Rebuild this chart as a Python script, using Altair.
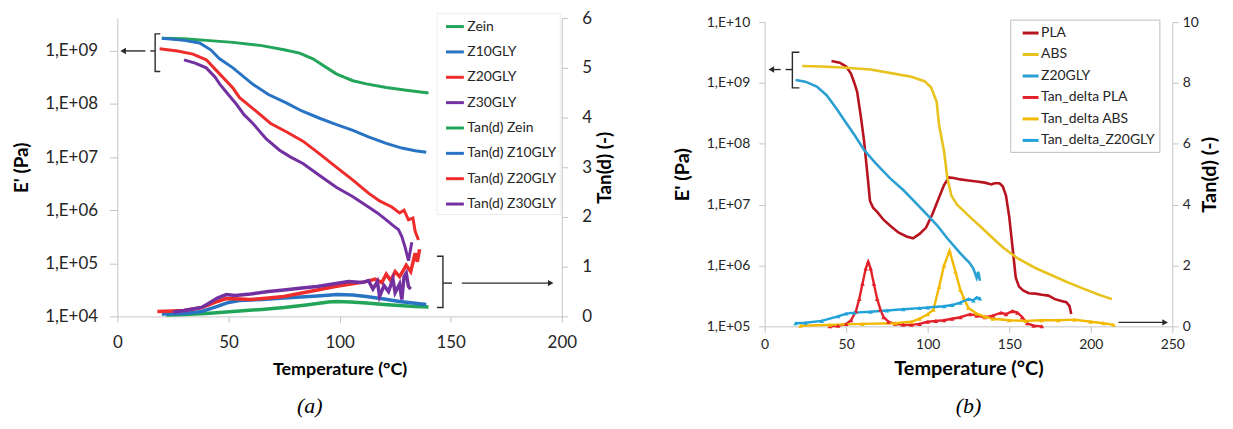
import altair as alt
import pandas as pd

FONT = "Lato"
AXIS_GREY = "#c4c4c4"
LABEL = "#262626"
INK = "#2b2b2b"

# ---------------- panel (a) : Zein series ----------------
A_SERIES = ["Zein", "Z10GLY", "Z20GLY", "Z30GLY",
            "Tan(d) Zein", "Tan(d) Z10GLY", "Tan(d) Z20GLY", "Tan(d) Z30GLY"]
A_COLORS = ["#22a558", "#2873c3", "#ef2c2c", "#7330a0",
            "#22a558", "#2873c3", "#ef2c2c", "#7330a0"]

a_zein_T = [20, 30, 40, 52, 65, 75, 82, 88, 93, 98.5, 102, 106, 112, 121, 130, 140]
a_zein_E = [1.74e9, 1.70e9, 1.58e9, 1.45e9, 1.26e9, 1.05e9, 9.1e8, 7.1e8, 5.2e8,
            3.7e8, 3.2e8, 2.75e8, 2.4e8, 2.05e8, 1.82e8, 1.62e8]

a_z10_T = [20, 30, 37, 42, 46, 52, 61, 68, 76, 83, 91, 98, 106, 113, 121, 128, 134, 139]
a_z10_E = [1.74e9, 1.58e9, 1.41e9, 1.05e9, 7.1e8, 4.8e8, 2.35e8, 1.51e8, 1.05e8,
           7.4e7, 5.4e7, 4.2e7, 3.2e7, 2.4e7, 1.82e7, 1.48e7, 1.32e7, 1.23e7]

a_z20_T = [19, 27, 34, 40, 46, 52, 55, 62, 69, 76, 83.5, 91, 98.5, 106, 113, 118,
           123.5, 127, 129, 131, 133, 134, 135.5]
a_z20_E = [1.1e9, 1.0e9, 8.7e8, 6.8e8, 3.7e8, 2.0e8, 1.32e8, 7.6e7, 4.3e7, 3.0e7,
           2.0e7, 1.15e7, 6.5e6, 3.7e6, 2.1e6, 1.5e6, 1.15e6, 8.9e5, 1.0e6, 6.6e5,
           7.1e5, 4.0e5, 2.75e5]

a_z30_T = [30, 35, 40, 44, 46, 50, 53.5, 57, 61, 67, 73, 78, 83.5, 91, 98.5, 106,
           113, 117, 121, 124, 126.5, 128, 129.5, 131, 132.5]
a_z30_E = [6.8e8, 5.9e8, 4.8e8, 3.2e8, 2.4e8, 1.5e8, 1.0e8, 6.3e7, 4.3e7, 2.2e7,
           1.35e7, 1.0e7, 7.6e6, 4.5e6, 2.7e6, 1.8e6, 1.15e6, 8.9e5, 6.6e5, 5.2e5,
           4.3e5, 3.2e5, 2.0e5, 1.12e5, 2.5e5]

a_tzein_T = [22, 30, 40, 52, 65, 75, 85, 90, 95, 99, 105, 112, 120, 127, 134, 140]
a_tzein_v = [0.03, 0.04, 0.06, 0.1, 0.14, 0.18, 0.23, 0.26, 0.29, 0.3, 0.29, 0.27,
             0.24, 0.22, 0.2, 0.19]

a_tz10_T = [20, 30, 38, 45, 50, 55, 65, 75, 90, 99, 106, 112, 120, 127, 133, 139]
a_tz10_v = [0.05, 0.06, 0.1, 0.2, 0.28, 0.32, 0.34, 0.37, 0.41, 0.44, 0.43, 0.4,
            0.35, 0.3, 0.27, 0.24]

a_tz20_T = [18, 25, 30, 38, 45, 49, 55, 60, 68, 75, 83, 90, 98, 105, 112, 116, 119,
            121, 123, 125, 127, 129, 130, 132, 134, 135, 136]
a_tz20_v = [0.1, 0.11, 0.12, 0.18, 0.3, 0.36, 0.35, 0.34, 0.37, 0.4, 0.47, 0.53,
            0.6, 0.65, 0.7, 0.75, 0.68, 0.85, 0.72, 0.9, 0.8, 0.95, 1.03, 0.9, 1.27,
            1.1, 1.35]

a_tz30_T = [25, 30, 38, 45, 49, 53, 60, 68, 75, 83, 90, 97, 104, 110, 113, 115, 117,
            118, 120, 122, 124, 125, 127, 128, 129, 130, 131, 132]
a_tz30_v = [0.09, 0.12, 0.18, 0.37, 0.44, 0.42, 0.45, 0.5, 0.53, 0.57, 0.6, 0.65,
            0.7, 0.68, 0.72, 0.55, 0.7, 0.4, 0.62, 0.5, 0.75, 0.48, 0.65, 0.34, 0.8,
            0.87, 0.6, 0.55]

# annotation marks of panel (a): bracket + arrow (left, E' units; right, tan units)
a_left_bracket_T = [19.3, 17, 17, 19.3]
a_left_bracket_E = [2.1e9, 2.1e9, 4.1e8, 4.1e8]
a_left_tick_T = [17, 14.8]
a_left_tick_E = [1e9, 1e9]
a_left_arrow_T = [12.6, 3.0]
a_left_arrow_E = [1e9, 1e9]
a_left_head = (2.6, 1e9, "triangle-left")
a_right_bracket_T = [143.8, 146.5, 146.5, 143.8]
a_right_bracket_v = [1.21, 1.21, 0.18, 0.18]
a_right_tick_T = [146.5, 150.6]
a_right_tick_v = [0.67, 0.67]
a_right_arrow_T = [155, 194]
a_right_arrow_v = [0.67, 0.67]
a_right_head = (195, 0.67, "triangle-right")

# ---------------- panel (b) : PLA / ABS / Z20GLY ----------------
B_SERIES = ["PLA", "ABS", "Z20GLY", "Tan_delta PLA", "Tan_delta ABS", "Tan_delta_Z20GLY"]
B_COLORS = ["#b8141f", "#e8c21e", "#2aa0d2", "#e3202a", "#f3b900", "#21a3da"]

b_pla_T = [41, 46, 50, 53, 55, 56.7, 59, 61, 63, 64.6, 66.5, 69, 73, 77, 82, 87, 91,
           95, 99, 103, 107, 110, 113, 116, 120, 125, 130, 135, 139, 141, 144, 146,
           148, 150, 152, 154, 156, 158.5, 162, 166, 170, 174, 178, 182, 185, 187, 188]
b_pla_E = [2.3e9, 2.15e9, 1.86e9, 1.41e9, 1.0e9, 7.2e8, 2.8e8, 1.1e8, 3.2e7, 1.15e7,
           8.9e6, 7.6e6, 5.6e6, 4.5e6, 3.5e6, 3.0e6, 2.8e6, 3.3e6, 4.2e6, 7.1e6,
           1.32e7, 2.1e7, 2.8e7, 2.75e7, 2.6e7, 2.5e7, 2.4e7, 2.3e7, 2.15e7, 2.25e7,
           2.25e7, 2.0e7, 1.41e7, 6.3e6, 2.0e6, 6.3e5, 4.5e5, 3.9e5, 3.5e5, 3.45e5,
           3.3e5, 3.2e5, 2.8e5, 2.6e5, 2.5e5, 2.15e5, 1.6e5]

b_abs_T = [23, 35, 50, 65, 80, 90, 98, 102, 105.5, 107, 110, 112, 114.5, 118, 125,
           133, 140, 146, 155, 166, 175, 185, 195, 205, 213]
b_abs_E = [1.9e9, 1.86e9, 1.78e9, 1.66e9, 1.41e9, 1.26e9, 1.07e9, 8.5e8, 4.9e8,
           2.0e8, 7.6e7, 2.8e7, 1.41e7, 1.0e7, 6.6e6, 4.2e6, 2.8e6, 2.0e6, 1.32e6,
           9.1e5, 7.1e5, 5.4e5, 4.2e5, 3.3e5, 2.8e5]

b_z20_T = [19, 25, 32, 38, 44, 50, 55, 61, 68, 77, 85, 91.5, 99, 106, 112, 120,
           125.5, 128, 130, 131, 132]
b_z20_E = [1.12e9, 1.05e9, 8.7e8, 6.3e8, 3.8e8, 2.2e8, 1.41e8, 7.9e7, 4.8e7, 2.7e7,
           1.74e7, 1.15e7, 7.1e6, 4.5e6, 2.8e6, 1.58e6, 1.12e6, 8.9e5, 6.3e5, 7.9e5,
           5.6e5]

b_tpla_T = [40, 45, 50, 53, 56, 58, 60, 62, 63.5, 65, 67, 69, 71, 73, 76, 80, 85, 90,
            95, 100, 105, 110, 115, 120, 126, 130, 135, 140, 145, 148, 152, 155, 158,
            161, 165, 170]
b_tpla_v = [0.0, 0.02, 0.08, 0.2, 0.5, 0.9, 1.4, 1.9, 2.12, 1.9, 1.4, 0.9, 0.55, 0.3,
            0.15, 0.08, 0.05, 0.05, 0.08, 0.15, 0.18, 0.2, 0.25, 0.3, 0.4, 0.35, 0.3,
            0.35, 0.45, 0.4, 0.5, 0.45, 0.3, 0.1, 0.02, 0.0]

b_tabs_T = [22, 40, 60, 80, 90, 95, 100, 103.5, 107, 110, 113.4, 117, 120, 122, 125,
            130, 135, 140, 150, 160, 170, 180, 190, 200, 208, 214]
b_tabs_v = [0.02, 0.05, 0.08, 0.1, 0.15, 0.25, 0.4, 0.55, 1.3, 2.0, 2.48, 1.8, 1.2,
            0.95, 0.6, 0.42, 0.32, 0.25, 0.2, 0.18, 0.2, 0.2, 0.22, 0.15, 0.1, 0.05]

b_tz20_T = [19, 25, 35, 45, 50, 55, 65, 75, 85, 95, 100, 110, 115, 120, 125, 128, 130, 132]
b_tz20_v = [0.1, 0.12, 0.18, 0.33, 0.42, 0.45, 0.48, 0.52, 0.56, 0.6, 0.62, 0.66,
            0.7, 0.78, 0.9, 0.85, 0.95, 0.92]

b_left_bracket_T = [21.3, 17, 17, 21.3]
b_left_bracket_E = [3.2e9, 3.2e9, 8.3e8, 8.3e8]
b_left_tick_T = [17, 12.8]
b_left_tick_E = [1.66e9, 1.66e9]
b_left_arrow_T = [9.8, 4.6]
b_left_arrow_E = [1.66e9, 1.66e9]
b_left_head = (4.1, 1.66e9, "triangle-left")
b_right_arrow_T = [217, 245]
b_right_arrow_v = [0.13, 0.13]
b_right_head = (245.6, 0.13, "triangle-right")


def long_df(items):
    rows = []
    for name, ts, vs in items:
        for i, (t, v) in enumerate(zip(ts, vs)):
            rows.append({"T": t, "v": v, "series": name, "i": i})
    return pd.DataFrame(rows)


def ann_layers(segments, heads, x_enc, y_enc):
    rows = []
    for sid, (ts, vs) in enumerate(segments):
        for k, (t, v) in enumerate(zip(ts, vs)):
            rows.append({"T": t, "v": v, "seg": sid, "k": k})
    lines = alt.Chart(pd.DataFrame(rows)).mark_line(
        color=INK, strokeWidth=1.4, clip=False
    ).encode(x=x_enc, y=y_enc, detail="seg:N", order="k:Q")
    hd = pd.DataFrame([{"T": t, "v": v, "shape": s} for t, v, s in heads])
    pts = alt.Chart(hd).mark_point(
        filled=True, color=INK, size=42, opacity=1, clip=False
    ).encode(x=x_enc, y=y_enc, shape=alt.Shape("shape:N", scale=None))
    return [lines, pts]


log_label = "'1,E+' + (datum.value >= 1e10 ? '' : '0') + format(log(datum.value) / LN10, '.0f')"


def axis(**kw):
    base = dict(grid=False, domainColor=AXIS_GREY, tickColor=AXIS_GREY,
                labelFont=FONT, labelColor=LABEL, titleFont=FONT,
                titleFontWeight="bold", titleColor="black", labelFlush=False)
    base.update(kw)
    return alt.Axis(**base)


# ---------------- build panel (a) ----------------
a_color = alt.Color(
    "series:N",
    scale=alt.Scale(domain=A_SERIES, range=A_COLORS),
    legend=alt.Legend(title=None, orient="none", legendX=321, legendY=-5,
                      direction="vertical", symbolType="stroke", symbolSize=324,
                      symbolStrokeWidth=3, labelFont=FONT, labelFontSize=14,
                      labelColor=LABEL, rowPadding=7.5, padding=3, symbolOffset=5,
                      labelOffset=2, strokeColor="#ececec", fillColor="white",
                      labelLimit=220),
)
a_x = alt.X("T:Q", scale=alt.Scale(domain=[0, 200], nice=False),
            axis=axis(values=[0, 50, 100, 150, 200], title="Temperature (°C)",
                      labelFontSize=17, titleFontSize=18, tickSize=6,
                      labelPadding=12, titlePadding=10))
a_yE = alt.Y("v:Q", scale=alt.Scale(type="log", domain=[1e4, 4.15e9], nice=False),
             axis=axis(orient="left", values=[1e4, 1e5, 1e6, 1e7, 1e8, 1e9],
                       labelExpr=log_label, title="E' (Pa)", labelFontSize=17,
                       titleFontSize=19, tickSize=8, labelPadding=12,
                       titlePadding=13))
a_yT = alt.Y("v:Q", scale=alt.Scale(domain=[0, 6], nice=False),
             axis=axis(orient="right", values=[0, 1, 2, 3, 4, 5, 6],
                       title="Tan(d) (-)", titleAngle=270, titleBaseline="top",
                       labelFontSize=17, titleFontSize=19, tickSize=6,
                       labelPadding=14, titlePadding=4))

a_E_df = long_df([("Zein", a_zein_T, a_zein_E), ("Z10GLY", a_z10_T, a_z10_E),
                  ("Z20GLY", a_z20_T, a_z20_E), ("Z30GLY", a_z30_T, a_z30_E)])
a_T_df = long_df([("Tan(d) Zein", a_tzein_T, a_tzein_v),
                  ("Tan(d) Z10GLY", a_tz10_T, a_tz10_v),
                  ("Tan(d) Z20GLY", a_tz20_T, a_tz20_v),
                  ("Tan(d) Z30GLY", a_tz30_T, a_tz30_v)])

a_E_lines = alt.Chart(a_E_df).mark_line(strokeWidth=3).encode(
    x=a_x, y=a_yE, color=a_color, order="i:Q")
a_T_lines = alt.Chart(a_T_df).mark_line(strokeWidth=3.5).encode(
    x=a_x, y=a_yT, color=a_color, order="i:Q")

a_left = alt.layer(a_E_lines, *ann_layers(
    [(a_left_bracket_T, a_left_bracket_E), (a_left_tick_T, a_left_tick_E),
     (a_left_arrow_T, a_left_arrow_E)], [a_left_head], a_x, a_yE))
a_right = alt.layer(a_T_lines, *ann_layers(
    [(a_right_bracket_T, a_right_bracket_v), (a_right_tick_T, a_right_tick_v),
     (a_right_arrow_T, a_right_arrow_v)], [a_right_head], a_x, a_yT))

panel_a = alt.layer(a_left, a_right).resolve_scale(y="independent").properties(
    width=447, height=300,
    title=alt.TitleParams("(a)", orient="bottom", anchor="middle",
                          font="Liberation Serif", fontSize=22, fontStyle="italic",
                          fontWeight="normal", color="black", dx=-30, offset=18))

# ---------------- build panel (b) ----------------
b_color = alt.Color(
    "series:N",
    scale=alt.Scale(domain=B_SERIES, range=B_COLORS),
    legend=alt.Legend(title=None, orient="none", legendX=247, legendY=1.5,
                      direction="vertical", symbolType="stroke", symbolSize=256,
                      symbolStrokeWidth=3, labelFont=FONT, labelFontSize=14,
                      labelColor=LABEL, rowPadding=4.6, padding=4, symbolOffset=7,
                      labelOffset=1, strokeColor="#bdbdbd", fillColor="white",
                      labelLimit=220),
)
b_x = alt.X("T:Q", scale=alt.Scale(domain=[0, 250], nice=False),
            axis=axis(values=[0, 50, 100, 150, 200, 250], title="Temperature (°C)",
                      labelFontSize=14, titleFontSize=20, tickSize=6,
                      labelPadding=5, titlePadding=7))
b_yE = alt.Y("v:Q", scale=alt.Scale(type="log", domain=[1e5, 1e10], range=[310, 4],
                                     nice=False),
             axis=axis(orient="left", values=[1e5, 1e6, 1e7, 1e8, 1e9, 1e10],
                       labelExpr=log_label, title="E' (Pa)", labelFontSize=14,
                       titleFontSize=20, tickSize=6, labelPadding=9,
                       titlePadding=14))
b_yT = alt.Y("v:Q", scale=alt.Scale(domain=[0, 10], range=[310, 4], nice=False),
             axis=axis(orient="right", values=[0, 2, 4, 6, 8, 10],
                       title="Tan(d) (-)", titleAngle=270, titleBaseline="top",
                       labelFontSize=14, titleFontSize=20, tickSize=6,
                       labelPadding=4, titlePadding=1))

b_E_df = long_df([("PLA", b_pla_T, b_pla_E), ("ABS", b_abs_T, b_abs_E),
                  ("Z20GLY", b_z20_T, b_z20_E)])
b_T_df = long_df([("Tan_delta PLA", b_tpla_T, b_tpla_v),
                  ("Tan_delta ABS", b_tabs_T, b_tabs_v),
                  ("Tan_delta_Z20GLY", b_tz20_T, b_tz20_v)])

b_E_lines = alt.Chart(b_E_df).mark_line(strokeWidth=2.6).encode(
    x=b_x, y=b_yE, color=b_color, order="i:Q")
b_T_lines = alt.Chart(b_T_df).mark_line(strokeWidth=2.4).encode(
    x=b_x, y=b_yT, color=b_color, order="i:Q")
b_T_marks = alt.Chart(b_T_df).mark_point(shape="triangle-up", filled=True, size=22,
                                         opacity=1).encode(
    x=b_x, y=b_yT, color=b_color)

b_left = alt.layer(b_E_lines, *ann_layers(
    [(b_left_bracket_T, b_left_bracket_E), (b_left_tick_T, b_left_tick_E),
     (b_left_arrow_T, b_left_arrow_E)], [b_left_head], b_x, b_yE))
b_right = alt.layer(b_T_lines, b_T_marks, *ann_layers(
    [(b_right_arrow_T, b_right_arrow_v)], [b_right_head], b_x, b_yT))

panel_b = alt.layer(b_left, b_right).resolve_scale(y="independent").properties(
    width=410, height=310,
    title=alt.TitleParams("(b)", orient="bottom", anchor="middle",
                          font="Liberation Serif", fontSize=22, fontStyle="italic",
                          fontWeight="normal", color="black", offset=18))

chart = alt.hconcat(panel_a, panel_b, spacing=58).resolve_scale(
    color="independent").properties(
    padding={"left": 4, "top": 0, "right": 5, "bottom": 0},
    background="white",
).configure_view(stroke=None)

chart.save("out.html", embed_options={"renderer": "svg", "actions": False})
